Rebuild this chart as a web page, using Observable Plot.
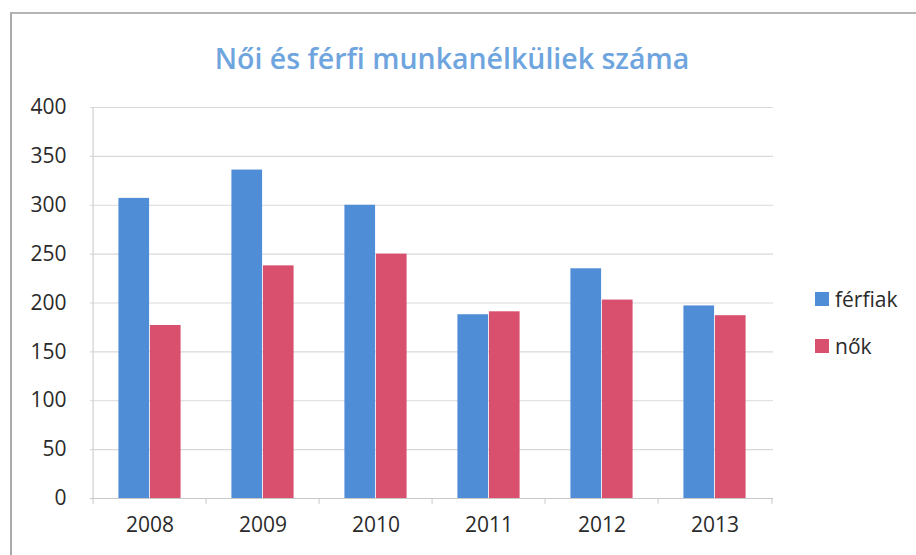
<!DOCTYPE html>
<html>
<head>
<meta charset="utf-8">
<script src="https://cdn.jsdelivr.net/npm/d3@7"></script>
<script src="https://cdn.jsdelivr.net/npm/@observablehq/plot@0.6"></script>
<style>
  html, body { margin: 0; padding: 0; background: #fff; }
  #wrap { position: relative; width: 916px; height: 555px; overflow: hidden; font-family: "Open Sans", sans-serif; }
  #frame { position: absolute; left: 10px; top: 12px; width: 920px; height: 560px; border-left: 2px solid #aaa; border-top: 2px solid #b5b5b5; }
  #title { position: absolute; left: 0; width: 904px; top: 39px; text-align: center; font-size: 28.5px; font-weight: 600; color: #6fa5de; }
  #chart { position: absolute; left: 0; top: 90px; }
  #legend { position: absolute; left: 815px; top: 275px; font-size: 21px; color: #2a2a2a; }
  .li { display: flex; align-items: center; height: 47px; margin: 0; }
  .sw { width: 14px; height: 14px; margin-right: 6px; }
</style>
</head>
<body>
<div id="wrap">
  <div id="frame"></div>
  <div id="title"></div>
  <div id="chart"></div>
  <div id="legend"></div>
</div>
<script>
const title = "Női és férfi munkanélküliek száma";
const years = ["2008", "2009", "2010", "2011", "2012", "2013"];
const seriesNames = ["férfiak", "nők"];
const ferfiak = [307, 336, 300, 188, 235, 197];
const nok = [177, 238, 250, 191, 203, 187];
const yTicks = [0, 50, 100, 150, 200, 250, 300, 350, 400];
const colors = ["#4f8dd6", "#d9506f"];

const W = 916, H = 465, mL = 90, mR = 143, mT = 17, mB = 57;
const bw = (W - mL - mR) / years.length;
const barW = 31.5;

const dataF = years.map((y, i) => ({year: y, value: ferfiak[i]}));
const dataN = years.map((y, i) => ({year: y, value: nok[i]}));

document.getElementById("title").textContent = title;

const chart = Plot.plot({
  width: W, height: H,
  marginLeft: mL, marginRight: mR, marginTop: mT, marginBottom: mB,
  style: {fontFamily: "Open Sans, sans-serif", fontSize: "21px", color: "#2a2a2a", background: "transparent"},
  x: {domain: years, padding: 0, tickSize: 0, tickPadding: 19, label: null},
  y: {domain: [0, 400], ticks: yTicks, tickSize: 0, tickPadding: 24, label: null, tickFormat: d => String(d)},
  marks: [
    Plot.ruleY(yTicks.filter(d => d > 0), {stroke: "#d9d9d9", strokeWidth: 1.2}),
    Plot.barY(dataF, {x: "year", y: "value", fill: colors[0], insetLeft: bw / 2 - barW, insetRight: bw / 2}),
    Plot.barY(dataN, {x: "year", y: "value", fill: colors[1], insetLeft: bw / 2, insetRight: bw / 2 - barW}),
    Plot.ruleY([0], {stroke: "#c8c8c8", strokeWidth: 1.2}),
    Plot.ruleX([years[0]], {dx: -bw / 2, y1: 0, y2: 400, stroke: "#d0d0d0", strokeWidth: 1.2}),
    Plot.ruleX(years, {dx: -bw / 2, y1: 0, y2: -6, stroke: "#c8c8c8"}),
    Plot.ruleX([years[years.length - 1]], {dx: bw / 2, y1: 0, y2: -6, stroke: "#c8c8c8"})
  ]
});
document.getElementById("chart").appendChild(chart);

const legend = document.getElementById("legend");
seriesNames.forEach((name, i) => {
  const row = document.createElement("div");
  row.className = "li";
  const sw = document.createElement("span");
  sw.className = "sw";
  sw.style.background = colors[i];
  const lab = document.createElement("span");
  lab.textContent = name;
  row.appendChild(sw); row.appendChild(lab);
  legend.appendChild(row);
});
</script>
</body>
</html>
